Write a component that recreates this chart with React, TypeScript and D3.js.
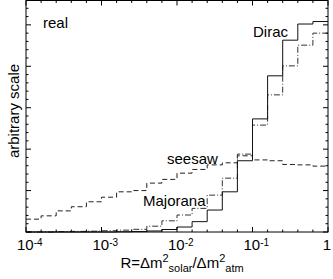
import * as d3 from 'd3'

// log10(R) bin edges: 20 bins of 0.2 decades from 1e-4 to 1
const binLogEdges = d3.range(21).map(i => -4 + 0.2 * i)

// histogram heights per bin (arbitrary units)
const diracValues = [0, 0, 0, 0, 0, 0, 0.005, 0.01, 0.025, 0.06, 0.12, 0.25, 0.53, 0.97, 1.72, 2.73, 3.77, 4.63, 5.02, 5.08]
const majoranaValues = [0, 0, 0.01, 0.015, 0.02, 0.03, 0.045, 0.065, 0.14, 0.27, 0.41, 0.57, 0.89, 1.3, 1.88, 2.58, 3.31, 4.01, 4.51, 4.8]
const seesawValues = [0.31, 0.39, 0.51, 0.61, 0.73, 0.84, 0.97, 1.0, 1.18, 1.27, 1.42, 1.51, 1.62, 1.67, 1.84, 1.74, 1.72, 1.63, 1.62, 1.59]

const xMajorTicks = [1e-4, 1e-3, 1e-2, 1e-1, 1]
const xTickExponents = ['-4', '-3', '-2', '-1', '']

const W = 333
const H = 279
const left = 26
const right = 328
const top = 0.5
const bottom = 232
const font = '"Liberation Sans", Arial, Helvetica, sans-serif'

export default function App() {
  const x = d3.scaleLog().domain([1e-4, 1]).range([left, right])
  const y = d3.scaleLinear().domain([0, 5.6]).range([bottom, 0])

  const step = d3.line<[number, number]>()
    .x(d => x(Math.pow(10, d[0])))
    .y(d => y(d[1]))
    .curve(d3.curveStepAfter)

  const pathFor = (vals: number[]) => {
    const pts: [number, number][] = vals.map((v, i) => [binLogEdges[i], v])
    pts.push([binLogEdges[binLogEdges.length - 1], vals[vals.length - 1]])
    return step(pts) ?? ''
  }

  const xMinor = binLogEdges.filter(e => Math.abs(e - Math.round(e)) > 1e-6).map(e => Math.pow(10, e))
  const yMajor = d3.range(0, 6, 1)
  const yMinor = d3.range(0, 5.61, 0.2).filter(v => Math.abs(v - Math.round(v)) > 1e-6)

  return (
    <svg width={W} height={H} style={{ position: 'absolute', left: 0, top: 0, background: '#fff' }} fontFamily={font}>
      <g stroke="#000" strokeWidth={1} fill="none">
        {/* histograms */}
        <path d={pathFor(seesawValues)} strokeDasharray="5,3" stroke="#222" />
        <path d={pathFor(majoranaValues)} strokeDasharray="6,2,1,2" stroke="#333" />
        <path d={pathFor(diracValues)} stroke="#111" />

        {/* frame */}
        <rect x={left} y={top} width={right - left} height={bottom - top} />

        {/* x ticks, bottom and top */}
        {xMajorTicks.map((t, i) => (
          <g key={`xM${i}`}>
            <line x1={x(t)} x2={x(t)} y1={bottom} y2={bottom - 5} />
            <line x1={x(t)} x2={x(t)} y1={top} y2={top + 5} />
          </g>
        ))}
        {xMinor.map((t, i) => (
          <g key={`xm${i}`}>
            <line x1={x(t)} x2={x(t)} y1={bottom} y2={bottom - 2.5} />
            <line x1={x(t)} x2={x(t)} y1={top} y2={top + 2.5} />
          </g>
        ))}

        {/* y ticks, left and right */}
        {yMajor.map((v, i) => (
          <g key={`yM${i}`}>
            <line x1={left} x2={left + 5} y1={y(v)} y2={y(v)} />
            <line x1={right} x2={right - 5} y1={y(v)} y2={y(v)} />
          </g>
        ))}
        {yMinor.map((v, i) => (
          <g key={`ym${i}`}>
            <line x1={left} x2={left + 2.5} y1={y(v)} y2={y(v)} />
            <line x1={right} x2={right - 2.5} y1={y(v)} y2={y(v)} />
          </g>
        ))}
      </g>

      {/* x tick labels */}
      <g fontSize={15} fill="#000">
        {xMajorTicks.map((t, i) =>
          xTickExponents[i] ? (
            <text key={`xl${i}`} x={x(t) - 9} y={250}>
              10<tspan fontSize={10} dy={-4}>{xTickExponents[i]}</tspan>
            </text>
          ) : (
            <text key={`xl${i}`} x={x(t) - 1} y={250} textAnchor="middle">1</text>
          )
        )}
      </g>

      {/* axis titles */}
      <text x={182} y={268} textAnchor="middle" fontSize={15}>
        R=Δm<tspan fontSize={11} dy={-6}>2</tspan>
        <tspan fontSize={11} dy={10}>solar</tspan>
        <tspan fontSize={15} dy={-4}>/Δm</tspan>
        <tspan fontSize={11} dy={-6}>2</tspan>
        <tspan fontSize={11} dy={10}>atm</tspan>
      </text>
      <text transform="translate(19,111) rotate(-90)" textAnchor="middle" fontSize={15}>arbitrary scale</text>

      {/* in-plot labels */}
      <g fontSize={15}>
        <text x={43} y={28}>real</text>
        <text x={253} y={37}>Dirac</text>
        <text x={167} y={164}>seesaw</text>
        <text x={143} y={206}>Majorana</text>
      </g>
    </svg>
  )
}
